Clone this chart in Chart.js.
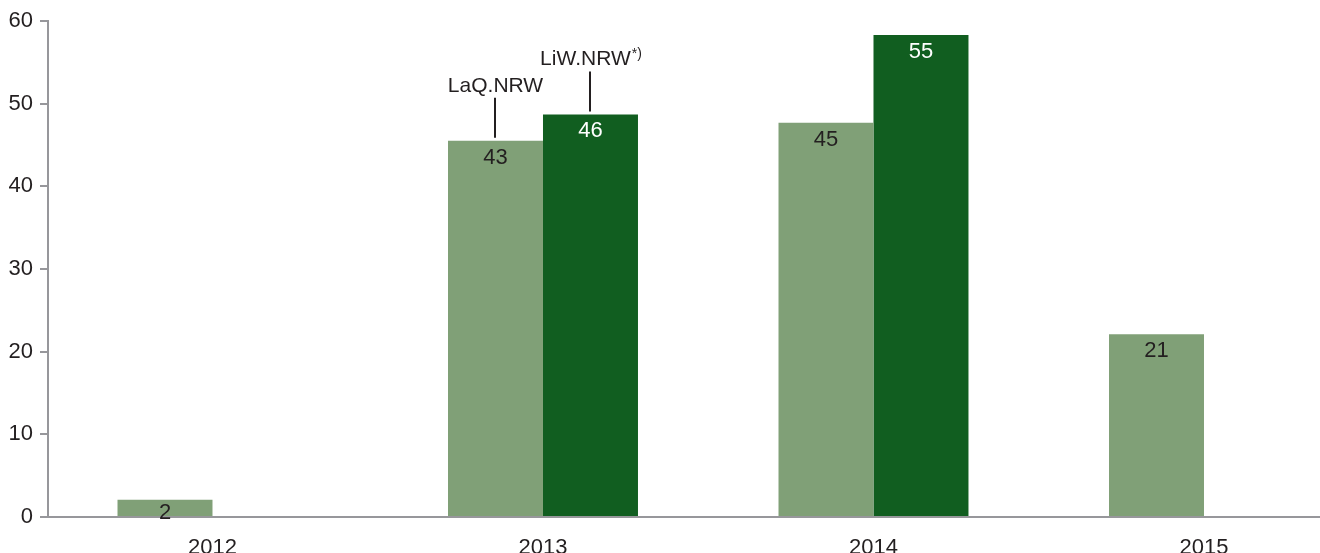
<!DOCTYPE html>
<html>
<head>
<meta charset="utf-8">
<script src="https://cdn.jsdelivr.net/npm/chart.js@4.4.1/dist/chart.umd.min.js"></script>
<style>
  html, body { margin: 0; padding: 0; background: #ffffff; }
  #wrap { width: 1320px; height: 553px; }
</style>
</head>
<body>
<div id="wrap"><canvas id="c" width="1320" height="553"></canvas></div>
<script>
// ---- data ----
const years = ['2012', '2013', '2014', '2015'];
const laqValues = [2.1, 45.5, 47.7, 22.1];      // bar heights on the axis
const laqLabels = ['2', '43', '45', '21'];       // printed numbers
const liwValues = [null, 48.7, 58.3, null];
const liwLabels = [null, '46', '55', null];
const seriesNames = ['LaQ.NRW', 'LiW.NRW'];
const yTicks = [0, 10, 20, 30, 40, 50, 60];

// ---- style ----
const TXT = '#231f20';
const AXIS = '#97979b';
const LIGHT = '#80a077';
const DARK = '#115e20';
const FONT = "'Liberation Sans', Arial, sans-serif";

// visible axis: year i sits at the centre of its bar pair
const xMin = -0.4977, xMax = 3.351, barFrac = 0.2874;

const toPoints = vals => vals.map((v, i) => v === null ? null : ({x: i, y: v})).filter(p => p);

const labelPlugin = {
  id: 'labels',
  afterDatasetsDraw(chart) {
    const ctx = chart.ctx;
    const sets = [
      {meta: chart.getDatasetMeta(0), labels: laqLabels.filter((l, i) => laqValues[i] !== null), color: TXT},
      {meta: chart.getDatasetMeta(1), labels: liwLabels.filter((l, i) => liwValues[i] !== null), color: '#ffffff'}
    ];
    ctx.save();
    ctx.font = '22px ' + FONT;
    ctx.textAlign = 'center';
    ctx.textBaseline = 'top';
    sets.forEach(s => {
      s.meta.data.forEach((el, i) => {
        ctx.fillStyle = s.color;
        const off = (el.base - el.y) < 30 ? 2 : 6;
        ctx.fillText(s.labels[i], el.x, el.y + off);
      });
    });
    // series annotations on 2013 bars
    const idx = 1;
    const laqEl = chart.getDatasetMeta(0).data[idx];
    const liwEl = chart.getDatasetMeta(1).data[0];
    ctx.strokeStyle = TXT;
    ctx.lineWidth = 2;
    [[laqEl, seriesNames[0], false], [liwEl, seriesNames[1], true]].forEach(([el, name, star]) => {
      const x = Math.round(el.x);
      const y0 = el.y - 3, y1 = el.y - 43;
      ctx.beginPath(); ctx.moveTo(x, y0); ctx.lineTo(x, y1); ctx.stroke();
      ctx.fillStyle = TXT;
      ctx.textBaseline = 'alphabetic';
      ctx.font = '21px ' + FONT;
      const w1 = ctx.measureText(name).width;
      let w2 = 0;
      if (star) { ctx.font = '14px ' + FONT; w2 = ctx.measureText('*)').width; }
      const start = el.x - (w1 + w2) / 2;
      ctx.font = '21px ' + FONT;
      ctx.textAlign = 'left';
      ctx.fillText(name, start, y1 - 6);
      if (star) {
        ctx.font = '14px ' + FONT;
        ctx.fillText('*)', start + w1 + 1, y1 - 13);
      }
    });
    ctx.restore();
  }
};

const hiddenAxis = shift => ({
  type: 'linear', display: false, offset: false,
  min: xMin + shift, max: xMax + shift,
  grid: {offset: false},
  ticks: {stepSize: 1, includeBounds: false}
});

new Chart(document.getElementById('c'), {
  type: 'bar',
  data: {
    datasets: [
      {label: seriesNames[0], data: toPoints(laqValues), backgroundColor: LIGHT, xAxisID: 'xa',
       grouped: false, categoryPercentage: barFrac, barPercentage: 1},
      {label: seriesNames[1], data: toPoints(liwValues), backgroundColor: DARK, xAxisID: 'xb',
       grouped: false, categoryPercentage: barFrac, barPercentage: 1}
    ]
  },
  options: {
    responsive: false,
    animation: false,
    devicePixelRatio: 1,
    layout: {padding: {top: 21, right: 0, left: 0, bottom: 0}},
    plugins: {legend: {display: false}, tooltip: {enabled: false}},
    scales: {
      x: {
        type: 'linear', min: xMin, max: xMax, offset: false,
        grid: {display: false, offset: false},
        border: {display: true, color: AXIS, width: 2},
        ticks: {stepSize: 1, includeBounds: false, padding: 10, color: TXT,
                font: {family: FONT, size: 22},
                callback: v => Number.isInteger(v) && years[v] ? years[v] : ''},
        afterFit: s => { s.height = 36; }
      },
      xa: hiddenAxis(barFrac / 2),
      xb: hiddenAxis(-barFrac / 2),
      y: {
        min: yTicks[0], max: yTicks[yTicks.length - 1],
        grid: {drawOnChartArea: false, drawTicks: true, tickLength: 8, color: AXIS, lineWidth: 2},
        border: {display: true, color: AXIS, width: 2},
        ticks: {stepSize: 10, padding: 7, color: TXT, font: {family: FONT, size: 22}},
        afterBuildTicks: s => { s.ticks = yTicks.map(v => ({value: v})); },
        afterFit: s => { s.width = 48; }
      }
    }
  },
  plugins: [labelPlugin]
});
</script>
</body>
</html>
